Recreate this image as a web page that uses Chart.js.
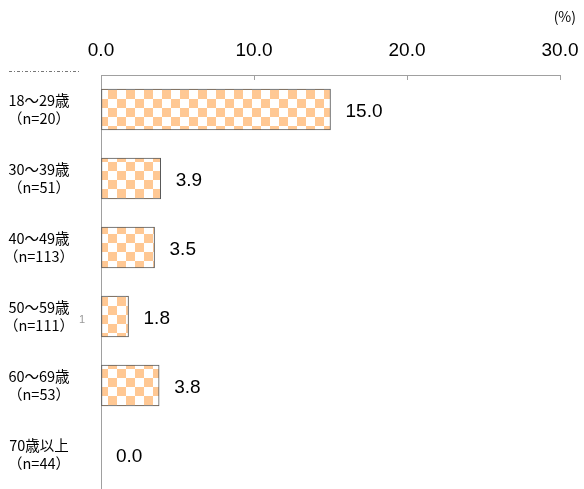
<!DOCTYPE html>
<html>
<head>
<meta charset="utf-8">
<script src="https://cdn.jsdelivr.net/npm/chart.js@4/dist/chart.umd.min.js"></script>
<style>
  body { margin: 0; background: #fff; }
  #wrap { width: 584px; height: 489px; }
</style>
</head>
<body>
<div id="wrap"><canvas id="myChart" width="584" height="489"></canvas></div>
<script>
// data
const categories = [
    ['18～29歳', '（n=20）'],
    ['30～39歳', '（n=51）'],
    ['40～49歳', '（n=113）'],
    ['50～59歳', '（n=111）'],
    ['60～69歳', '（n=53）'],
    ['70歳以上', '（n=44）']
];
const values = [15.0, 3.9, 3.5, 1.8, 3.8, 0.0];
const xMin = 0;
const xMax = 30;
const xStep = 10;
const unitLabel = '(%)';

const orange = '#ffc894';
const axisGray = '#a0a0a0';

// checkerboard fill
const pc = document.createElement('canvas');
pc.width = 18;
pc.height = 18;
const pctx = pc.getContext('2d');
pctx.fillStyle = '#ffffff';
pctx.fillRect(0, 0, 18, 18);
pctx.fillStyle = orange;
pctx.fillRect(0, 0, 9, 9);
pctx.fillRect(9, 9, 9, 9);
const checker = document.getElementById('myChart').getContext('2d').createPattern(pc, 'repeat');

const extras = {
    id: 'extras',
    afterDatasetsDraw(chart) {
        const ctx = chart.ctx;
        const xs = chart.scales.x;
        const area = chart.chartArea;
        ctx.save();
        // inner tick marks on the top axis
        ctx.strokeStyle = axisGray;
        ctx.lineWidth = 1;
        xs.ticks.forEach(t => {
            const px = Math.round(xs.getPixelForValue(t.value)) + 0.5;
            ctx.beginPath();
            ctx.moveTo(px, area.top);
            ctx.lineTo(px, area.top + 5);
            ctx.stroke();
        });
        // value labels
        const meta = chart.getDatasetMeta(0);
        ctx.fillStyle = '#000';
        ctx.font = '19px "Liberation Sans", Arial, sans-serif';
        ctx.textBaseline = 'middle';
        ctx.textAlign = 'left';
        meta.data.forEach((bar, i) => {
            ctx.fillText(values[i].toFixed(1), bar.x + 15, bar.y + 2);
        });
        // unit
        ctx.font = '14px "Noto Sans CJK JP", sans-serif';
        ctx.textAlign = 'right';
        ctx.fillText(unitLabel, 576, 17);
        // leftovers seen in the picture
        ctx.strokeStyle = '#777';
        ctx.setLineDash([3, 2, 1, 2]);
        ctx.beginPath();
        ctx.moveTo(9, 71.5);
        ctx.lineTo(80, 71.5);
        ctx.stroke();
        ctx.fillStyle = '#999';
        ctx.font = '11px "Liberation Sans", sans-serif';
        ctx.textAlign = 'center';
        ctx.fillText('1', 82, 320);
        ctx.restore();
    }
};

new Chart(document.getElementById('myChart'), {
    type: 'bar',
    data: {
        labels: categories,
        datasets: [{
            data: values,
            backgroundColor: checker,
            borderColor: '#595959',
            borderWidth: 1,
            borderSkipped: false,
            barThickness: 41
        }]
    },
    options: {
        indexAxis: 'y',
        responsive: false,
        animation: false,
        layout: { padding: { top: 39, right: 24, bottom: 0, left: 0 } },
        plugins: {
            legend: { display: false },
            tooltip: { enabled: false }
        },
        scales: {
            x: {
                position: 'top',
                min: xMin,
                max: xMax,
                afterFit: (s) => {
                    s.height = 36;
                    s.paddingLeft = 0;
                    s.paddingRight = 0;
                },
                ticks: {
                    stepSize: xStep,
                    padding: 13,
                    color: '#000',
                    font: { family: '"Liberation Sans", Arial, sans-serif', size: 19 },
                    callback: (v) => Number(v).toFixed(1)
                },
                grid: { display: true, drawOnChartArea: false, drawTicks: false },
                border: { display: true, color: axisGray, width: 1 }
            },
            y: {
                afterFit: (s) => {
                    s.width = 101;
                    s.paddingTop = 0;
                    s.paddingBottom = 0;
                },
                ticks: {
                    crossAlign: 'center',
                    padding: 27,
                    color: '#000',
                    font: { family: '"Noto Sans CJK JP", sans-serif', size: 14.5, lineHeight: 1.25 }
                },
                grid: { display: true, drawOnChartArea: false, drawTicks: false },
                border: { display: true, color: axisGray, width: 1 }
            }
        }
    },
    plugins: [extras]
});
</script>
</body>
</html>
